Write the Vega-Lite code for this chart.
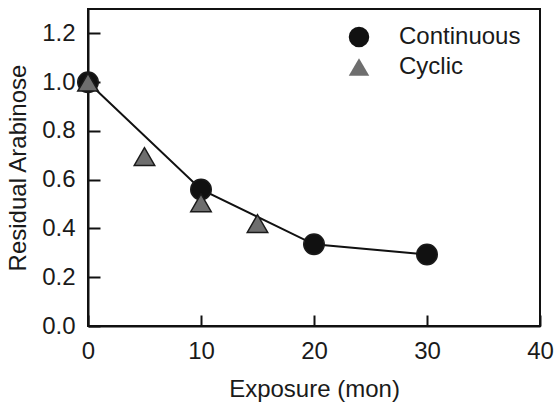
{
  "$schema": "https://vega.github.io/schema/vega-lite/v6.json",
  "width": 452,
  "height": 317,
  "autosize": {"type": "none"},
  "padding": {"left": 88, "top": 9, "right": 14, "bottom": 79},
  "background": "white",
  "data": {
    "values": [
      {"series": "Continuous", "exposure": 0, "arabinose": 1.0},
      {"series": "Continuous", "exposure": 10, "arabinose": 0.56},
      {"series": "Continuous", "exposure": 20, "arabinose": 0.335},
      {"series": "Continuous", "exposure": 30, "arabinose": 0.293},
      {"series": "Cyclic", "exposure": 0, "arabinose": 1.0},
      {"series": "Cyclic", "exposure": 5, "arabinose": 0.695},
      {"series": "Cyclic", "exposure": 10, "arabinose": 0.505},
      {"series": "Cyclic", "exposure": 15, "arabinose": 0.42}
    ]
  },
  "encoding": {
    "x": {
      "field": "exposure",
      "type": "quantitative",
      "scale": {"domain": [0, 40], "nice": false},
      "axis": {
        "title": "Exposure (mon)",
        "values": [0, 10, 20, 30, 40],
        "grid": false,
        "ticks": true,
        "tickSize": -11,
        "tickColor": "#111",
        "tickWidth": 2,
        "labelFlush": false,
        "labelPadding": 24,
        "titlePadding": 14
      }
    },
    "y": {
      "field": "arabinose",
      "type": "quantitative",
      "scale": {"domain": [0, 1.3], "nice": false},
      "axis": {
        "title": "Residual Arabinose",
        "values": [0, 0.2, 0.4, 0.6, 0.8, 1.0, 1.2],
        "format": ".1f",
        "ticks": false,
        "grid": true,
        "gridDash": [12, 2000],
        "gridColor": "#111",
        "gridWidth": 2,
        "gridOpacity": 1,
        "labelFlush": false,
        "labelPadding": 13,
        "titlePadding": 11
      }
    }
  },
  "layer": [
    {
      "transform": [{"filter": "datum.series === 'Continuous'"}],
      "mark": {"type": "line", "color": "#111", "strokeWidth": 2},
      "encoding": {}
    },
    {
      "mark": {"type": "point", "filled": true, "opacity": 1, "stroke": "#1a1a1a", "strokeWidth": 1.5, "size": 420},
      "encoding": {
        "shape": {
          "field": "series",
          "type": "nominal",
          "scale": {"domain": ["Continuous", "Cyclic"], "range": ["circle", "triangle-up"]},
          "legend": {
            "title": null,
            "orient": "none",
            "legendX": 259,
            "legendY": 16,
            "padding": 0,
            "symbolSize": 420,
            "labelOffset": 28,
            "rowPadding": 4,
            "labelFontSize": 24,
            "labelFont": "Liberation Sans",
            "labelColor": "#1a1a1a",
            "symbolStrokeColor": "#111",
            "symbolStrokeWidth": 1.5,
            "symbolOpacity": 1
          }
        },
        "fill": {
          "field": "series",
          "type": "nominal",
          "scale": {"domain": ["Continuous", "Cyclic"], "range": ["#111111", "#6e6e6e"]},
          "legend": {
            "title": null,
            "orient": "none",
            "legendX": 259,
            "legendY": 16,
            "padding": 0,
            "symbolSize": 420,
            "labelOffset": 28,
            "rowPadding": 4,
            "labelFontSize": 24,
            "labelFont": "Liberation Sans",
            "labelColor": "#1a1a1a",
            "symbolStrokeColor": "#111",
            "symbolStrokeWidth": 1.5,
            "symbolOpacity": 1
          }
        }
      }
    }
  ],
  "config": {
    "view": {"stroke": "#111", "strokeWidth": 2},
    "font": "Liberation Sans",
    "axis": {
      "labelFont": "Liberation Sans",
      "labelFontSize": 24,
      "labelColor": "#1a1a1a",
      "titleFont": "Liberation Sans",
      "titleFontSize": 24,
      "titleFontWeight": "normal",
      "titleColor": "#1a1a1a",
      "domainColor": "#111",
      "domainWidth": 2
    }
  }
}
